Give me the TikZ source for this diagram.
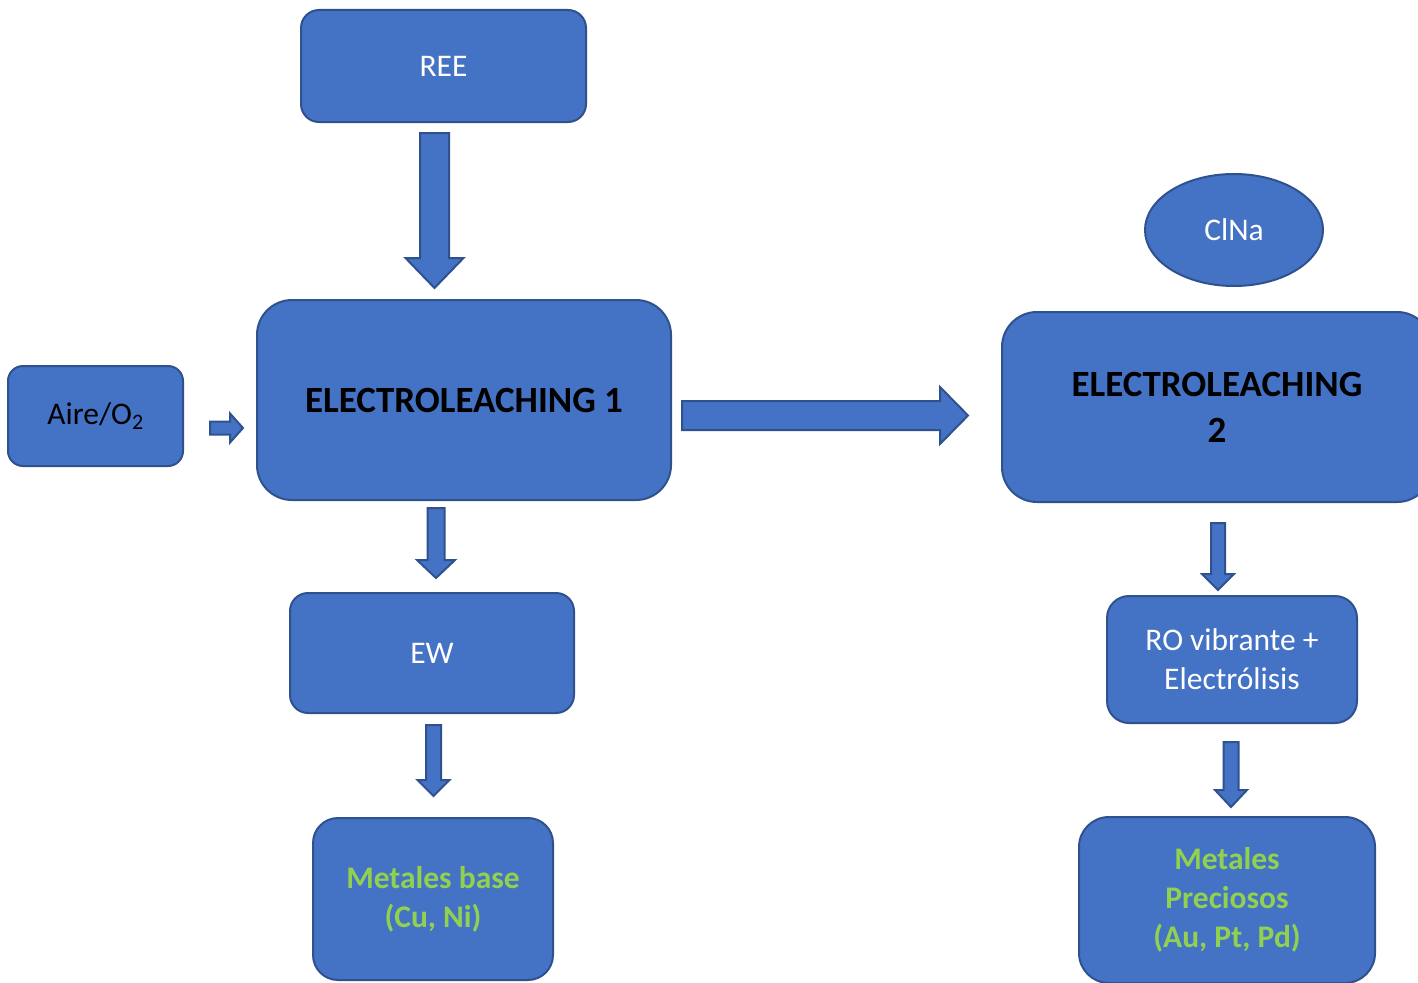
\documentclass[tikz,border=0pt]{standalone}
\usepackage{fontspec}
\setmainfont{Carlito}
\usetikzlibrary{calc,shapes.geometric}

\definecolor{boxfill}{HTML}{4472C4}
\definecolor{boxline}{HTML}{2F528F}
\definecolor{metalgreen}{HTML}{92D050}

% Block arrow from #1 to its tip #2: shaft half width #3, head half width #4, head length #5
\newcommand\blockarrow[5]{%
  \coordinate (bah) at ($(#2)!#5!(#1)$);
  \draw[barrow]
    ($(#1)!#3!90:(#2)$) -- ($(bah)!#3!90:(#2)$) -- ($(bah)!#4!90:(#2)$) --
    (#2) --
    ($(bah)!#4!-90:(#2)$) -- ($(bah)!#3!-90:(#2)$) -- ($(#1)!#3!-90:(#2)$) -- cycle;
}

\tikzset{
  box/.style={draw=boxline, fill=boxfill, line width=2pt, rectangle,
    inner sep=0pt, outer sep=0pt, align=center, text=white,
    font=\fontsize{31.5}{39}\selectfont},
  bigbox/.style={box, text=black, font=\fontsize{37}{46}\selectfont\bfseries},
  greenbox/.style={box, text=metalgreen, font=\fontsize{31.5}{39}\selectfont\bfseries},
  oval/.style={box, ellipse},
  barrow/.style={draw=boxline, fill=boxfill, line width=2pt, line join=miter},
}

\begin{document}
\begin{tikzpicture}[x=1pt, y=-1pt]
  \clip (0,0) rectangle (1418,982);
  \fill[white] (0,0) rectangle (1418,982);

  % process blocks
  \node[box, minimum width=285pt, minimum height=112pt, rounded corners=18pt] (ree) at (443.5,66) {REE};
  \node[oval, minimum width=178pt, minimum height=112pt] (clna) at (1234,230) {ClNa};
  \node[bigbox, minimum width=414pt, minimum height=200pt, rounded corners=35pt] (el1) at (464,400) {ELECTROLEACHING 1};
  \node[box, text=black, minimum width=175pt, minimum height=100pt, rounded corners=15pt] (aire) at (95.5,416) {Aire/O\textsubscript{2}};
  \node[bigbox, minimum width=430pt, minimum height=190pt, rounded corners=35pt] (el2) at (1217,407) {ELECTROLEACHING\\2};
  \node[box, minimum width=284pt, minimum height=120pt, rounded corners=18pt] (ew) at (432,653) {EW};
  \node[box, minimum width=250pt, minimum height=127pt, rounded corners=22pt] (ro) at (1232,659.5) {RO vibrante +\\Electrólisis};
  \node[greenbox, minimum width=240pt, minimum height=162pt, rounded corners=25pt] (mb) at (433,899) {Metales base\\(Cu, Ni)};
  \node[greenbox, minimum width=296pt, minimum height=166pt, rounded corners=30pt] (mp) at (1227,900) {Metales\\Preciosos\\(Au, Pt, Pd)};

  % connector end points
  \coordinate (a1s) at ($(ree.south)+(-9,11)$);
  \coordinate (a1e) at ($(a1s |- el1.north)+(0,-12)$);
  \coordinate (a2s) at ($(aire.east)+(27,12)$);
  \coordinate (a2e) at ($(el1.west |- a2s)+(-14,0)$);
  \coordinate (a3s) at ($(el1.east)+(11,15.5)$);
  \coordinate (a3e) at ($(el2.west |- a3s)+(-34,0)$);
  \coordinate (a4s) at ($(el1.south)+(-28,8)$);
  \coordinate (a4e) at ($(a4s |- ew.north)+(0,-15)$);
  \coordinate (a5s) at ($(ew.south)+(1.5,12)$);
  \coordinate (a5e) at ($(a5s |- mb.north)+(0,-22)$);
  \coordinate (a6s) at ($(el2.south)+(1,21)$);
  \coordinate (a6e) at ($(a6s |- ro.north)+(0,-6)$);
  \coordinate (a7s) at ($(ro.south)+(-1,19)$);
  \coordinate (a7e) at ($(a7s |- mp.north)+(0,-10)$);

  % block arrows
  \blockarrow{a1s}{a1e}{14.5pt}{29pt}{30pt}
  \blockarrow{a2s}{a2e}{6.5pt}{14.5pt}{13pt}
  \blockarrow{a3s}{a3e}{14.5pt}{28.5pt}{28pt}
  \blockarrow{a4s}{a4e}{8.5pt}{19pt}{18pt}
  \blockarrow{a5s}{a5e}{7.5pt}{16pt}{16pt}
  \blockarrow{a6s}{a6e}{7pt}{16pt}{16pt}
  \blockarrow{a7s}{a7e}{7.5pt}{16pt}{17pt}
\end{tikzpicture}
\end{document}
